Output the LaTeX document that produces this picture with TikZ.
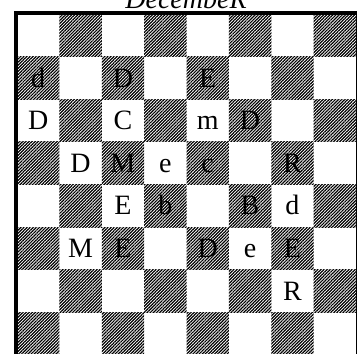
\documentclass[tikz,border=0pt]{standalone}
\usepackage{fontspec}
\setmainfont{Liberation Serif}
\usetikzlibrary{patterns.meta}
\newcommand\cellnode[3]{\node[lab] (n#1#2) at ({17+(#2-0.5)*42.375},{14+(#1-1)*42.6+30.5}) {#3};}
\begin{document}
\begin{tikzpicture}[x=1pt,y=-1pt,
  hatch/.style={pattern={Lines[angle=45,distance=2.2pt,line width=1.2pt]}},
  lab/.style={font=\fontsize{28}{30}\selectfont, anchor=base, inner sep=0pt},
  ttl/.style={font=\fontsize{28}{30}\selectfont\itshape, anchor=base, inner sep=0pt}]
\useasboundingbox (0,0) rectangle (357,354);
\clip (0,0) rectangle (357,354);
\foreach \r in {1,...,8}{
  \foreach \c in {1,...,8}{
    \pgfmathtruncatemacro\myparity{mod(\r+\c,2)}
    \ifnum\myparity=1
      \fill[hatch] ({17+(\c-1)*42.375},{14+(\r-1)*42.6}) rectangle ({17+\c*42.375},{14+\r*42.6});
    \fi
  }
}
\fill (14,11) rectangle (357,15);
\fill (14,11) rectangle (17.5,354);
\draw[line width=1pt] (356,11) -- (356,354);
\node[ttl] (title) at (186,8) {DecembeR};
\cellnode{2}{1}{d}
\cellnode{2}{3}{D}
\cellnode{2}{5}{E}
\cellnode{3}{1}{D}
\cellnode{3}{3}{C}
\cellnode{3}{5}{m}
\cellnode{3}{6}{D}
\cellnode{4}{2}{D}
\cellnode{4}{3}{M}
\cellnode{4}{4}{e}
\cellnode{4}{5}{c}
\cellnode{4}{7}{R}
\cellnode{5}{3}{E}
\cellnode{5}{4}{b}
\cellnode{5}{6}{B}
\cellnode{5}{7}{d}
\cellnode{6}{2}{M}
\cellnode{6}{3}{E}
\cellnode{6}{5}{D}
\cellnode{6}{6}{e}
\cellnode{6}{7}{E}
\cellnode{7}{7}{R}
\end{tikzpicture}
\end{document}
